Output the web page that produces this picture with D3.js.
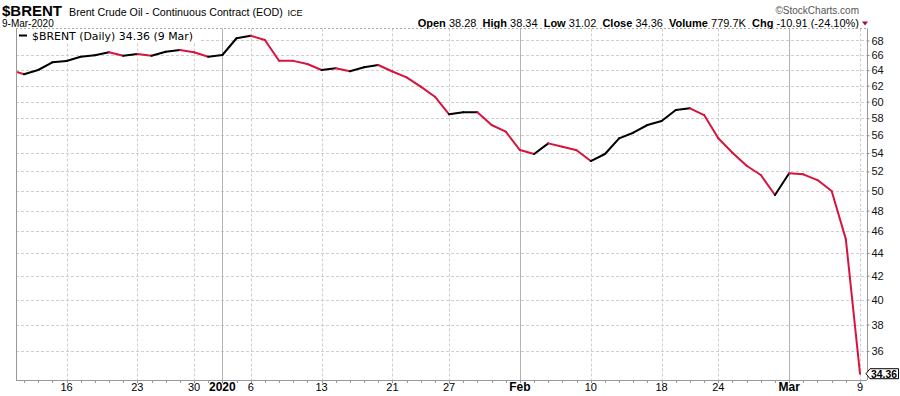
<!DOCTYPE html>
<html>
<head>
<meta charset="utf-8">
<script src="https://cdn.jsdelivr.net/npm/d3@7/dist/d3.min.js"></script>
<style>
  body { margin: 0; background: #fff; }
  svg { display: block; font-family: Arial, "Liberation Sans", sans-serif; }
</style>
</head>
<body>
<svg id="chart" width="900" height="396"></svg>
<script>
// trading days shown (first one sits just left of the plot and gets clipped)
const dates = [
  "2019-12-10","2019-12-11","2019-12-12","2019-12-13","2019-12-16","2019-12-17","2019-12-18","2019-12-19","2019-12-20",
  "2019-12-23","2019-12-24","2019-12-26","2019-12-27","2019-12-30","2019-12-31",
  "2020-01-02","2020-01-03","2020-01-06","2020-01-07","2020-01-08","2020-01-09","2020-01-10",
  "2020-01-13","2020-01-14","2020-01-15","2020-01-16","2020-01-17","2020-01-21","2020-01-22","2020-01-23","2020-01-24",
  "2020-01-27","2020-01-28","2020-01-29","2020-01-30","2020-01-31",
  "2020-02-03","2020-02-04","2020-02-05","2020-02-06","2020-02-07","2020-02-10","2020-02-11","2020-02-12","2020-02-13","2020-02-14",
  "2020-02-18","2020-02-19","2020-02-20","2020-02-21","2020-02-24","2020-02-25","2020-02-26","2020-02-27","2020-02-28",
  "2020-03-02","2020-03-03","2020-03-04","2020-03-05","2020-03-06","2020-03-09"
];
const closes = [
  64.04, 63.45, 64.01, 65.03, 65.20, 65.78, 65.97, 66.38, 65.91,
  66.15, 65.91, 66.46, 66.69, 66.38, 65.78,
  66.01, 68.31, 68.67, 68.07, 65.24, 65.22, 64.80,
  64.01, 64.23, 63.85, 64.37, 64.67, 63.81, 63.06, 61.86, 60.60,
  58.46, 58.70, 58.71, 57.19, 56.41,
  54.33, 53.89, 55.08, 54.70, 54.30, 53.12, 53.89, 55.65, 56.29, 57.19,
  57.66, 58.97, 59.18, 58.37, 55.65, 54.03, 52.61, 51.62, 49.55,
  51.80, 51.69, 51.09, 49.95, 45.27, 34.36
];

const tickDates  = ["2019-12-16","2019-12-23","2019-12-30","2020-01-02","2020-01-06","2020-01-13","2020-01-21",
                    "2020-01-27","2020-02-03","2020-02-10","2020-02-18","2020-02-24","2020-03-02","2020-03-09"];
const tickLabels = ["16","23","30","2020","6","13","21","27","Feb","10","18","24","Mar","9"];
const tickMajor  = [false,false,false,true,false,false,false,false,true,false,false,false,true,false];

const priceTicks = [36,38,40,42,44,46,48,50,52,54,56,58,60,62,64,66,68];

const stats = [["Open","38.28"],["High","38.34"],["Low","31.02"],["Close","34.36"],["Volume","779.7K"],["Chg","-10.91 (-24.10%)"]];

const upColor = "#000000";
const downColor = "#d6143e";

const svg = d3.select("#chart");
const plotLeft = 16, plotRight = 867, plotTop = 28.5, plotBottom = 380;

// log price scale, category (trading day) x
let y = d3.scaleLog().domain([33.92, 69.69]).range([plotBottom, plotTop]);
let x = d3.scaleLinear().domain([1, dates.length - 1]).range([24, 860]);

// header
svg.append("text").attr("x", 2).attr("y", 15.5)
  .style("font-size", "15px").style("font-weight", "bold").text("$BRENT");
svg.append("text").attr("x", 69).attr("y", 15.5)
  .style("font-size", "10.7px").text("Brent Crude Oil - Continuous Contract (EOD)");
svg.append("text").attr("x", 287.5).attr("y", 15.5)
  .style("font-size", "9px").text("ICE");
svg.append("text").attr("x", 2).attr("y", 26.5)
  .style("font-size", "10px").text("9-Mar-2020");
svg.append("text").attr("x", 859).attr("y", 14).attr("text-anchor", "end")
  .style("font-size", "10px").style("fill", "#555").text("\u00A9StockCharts.com");

let statText = svg.append("text").attr("x", 859).attr("y", 26.5).attr("text-anchor", "end")
  .attr("xml:space", "preserve").style("font-size", "11px");
stats.forEach(function(s, i){
  statText.append("tspan").style("font-weight", "bold").text((i ? "  " : "") + s[0] + " ");
  statText.append("tspan").text(s[1]);
});
svg.append("path").attr("d", "M862,21.5 L868,21.5 L865,25.5 Z").attr("fill", "#a0103a");

// grid
let grid = svg.append("g");
grid.selectAll(".hgrid").data(priceTicks).enter().append("line")
  .attr("x1", plotLeft).attr("x2", plotRight)
  .attr("y1", d => Math.round(y(d)) + 0.5).attr("y2", d => Math.round(y(d)) + 0.5)
  .attr("stroke", "#cfcfcf").attr("stroke-dasharray", "3,2");
grid.selectAll(".vgrid").data(tickDates).enter().append("line")
  .attr("x1", d => Math.round(x(dates.indexOf(d))) + 0.5)
  .attr("x2", d => Math.round(x(dates.indexOf(d))) + 0.5)
  .attr("y1", plotTop).attr("y2", plotBottom)
  .attr("stroke", (d, i) => tickMajor[i] ? "#b4b4b4" : "#cfcfcf")
  .attr("stroke-dasharray", (d, i) => tickMajor[i] ? null : "3,2");

// frame
svg.append("line").attr("x1", plotLeft).attr("x2", plotRight).attr("y1", plotTop).attr("y2", plotTop)
  .attr("stroke", "#aaa").attr("stroke-dasharray", "2,2");
svg.append("line").attr("x1", plotLeft + 0.5).attr("x2", plotLeft + 0.5).attr("y1", plotTop).attr("y2", plotBottom)
  .attr("stroke", "#999");
svg.append("line").attr("x1", plotLeft).attr("x2", plotRight).attr("y1", plotBottom + 0.5).attr("y2", plotBottom + 0.5)
  .attr("stroke", "#999");
svg.append("line").attr("x1", plotRight + 0.5).attr("x2", plotRight + 0.5).attr("y1", plotTop).attr("y2", plotBottom)
  .attr("stroke", "#999");

// price line, black on up days, red on down days
svg.append("clipPath").attr("id", "plotclip").append("rect")
  .attr("x", plotLeft + 1).attr("y", plotTop).attr("width", plotRight - plotLeft - 1).attr("height", plotBottom - plotTop);
let segs = d3.range(1, closes.length).map(i => ({ i: i, up: closes[i] > closes[i - 1] }));
svg.append("g").attr("clip-path", "url(#plotclip)")
  .selectAll("line").data(segs).enter().append("line")
  .attr("x1", d => x(d.i - 1)).attr("y1", d => y(closes[d.i - 1]))
  .attr("x2", d => x(d.i)).attr("y2", d => y(closes[d.i]))
  .attr("stroke", d => d.up ? upColor : downColor)
  .attr("stroke-width", 2).attr("stroke-linecap", "round");

// legend
svg.append("rect").attr("x", plotLeft + 1).attr("y", plotTop + 0.5).attr("width", 182).attr("height", 13).attr("fill", "#fff");
svg.append("line").attr("x1", 19).attr("x2", 27).attr("y1", 35.5).attr("y2", 35.5)
  .attr("stroke", "#000").attr("stroke-width", 2);
svg.append("text").attr("x", 32).attr("y", 39.5)
  .attr("textLength", 161).attr("lengthAdjust", "spacingAndGlyphs")
  .style("font-family", "'DejaVu Sans', Verdana, sans-serif").style("font-size", "10.5px")
  .text("$BRENT (Daily) 34.36 (9 Mar)");

// right price axis
let yAxis = d3.axisRight(y).tickValues(priceTicks).tickFormat(d3.format("d")).tickSize(2).tickPadding(2);
let ya = svg.append("g").attr("transform", "translate(" + (plotRight + 0.5) + ",0)").call(yAxis);
ya.select(".domain").remove();
ya.selectAll("line").attr("stroke", "#888");
ya.selectAll("text").style("font-size", "11px").style("font-family", "Arial, 'Liberation Sans', sans-serif").attr("fill", "#111");

// bottom axis: minor ticks every trading day, labels at week/month starts
svg.append("g").selectAll("line").data(d3.range(1, dates.length)).enter().append("line")
  .attr("x1", d => Math.round(x(d)) + 0.5).attr("x2", d => Math.round(x(d)) + 0.5)
  .attr("y1", plotBottom + 1).attr("y2", plotBottom + 3).attr("stroke", "#999");
svg.append("g").selectAll("text").data(tickDates).enter().append("text")
  .attr("x", d => x(dates.indexOf(d))).attr("y", 391)
  .attr("text-anchor", "middle")
  .style("font-size", (d, i) => tickMajor[i] ? "12px" : "11px")
  .style("font-weight", (d, i) => tickMajor[i] ? "bold" : "normal")
  .text((d, i) => tickLabels[i]);

// last value tag
let last = closes[closes.length - 1];
let ly = y(last);
svg.append("path")
  .attr("d", "M866," + ly + " L870," + (ly - 5) + " L898.5," + (ly - 5) + " L898.5," + (ly + 5) + " L870," + (ly + 5) + " Z")
  .attr("fill", "#fff").attr("stroke", "#000").attr("stroke-width", 1);
svg.append("text").attr("x", 884).attr("y", ly + 3.8).attr("text-anchor", "middle")
  .attr("textLength", 26).attr("lengthAdjust", "spacingAndGlyphs")
  .style("font-size", "10.5px").style("font-weight", "bold").text(last.toFixed(2));
</script>
</body>
</html>
